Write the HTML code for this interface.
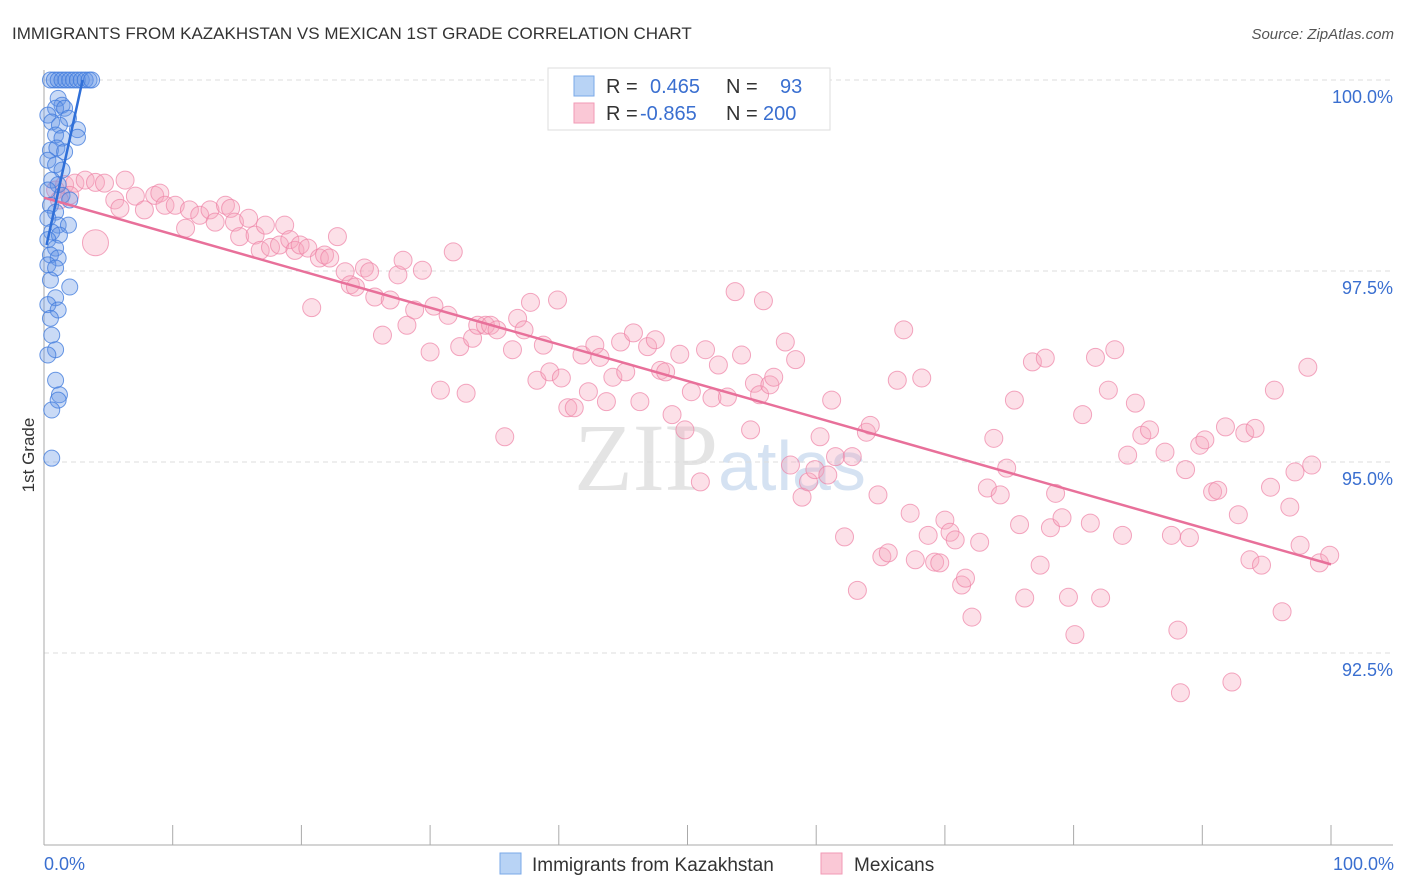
<!DOCTYPE html>
<html><head><meta charset="utf-8">
<style>
body{margin:0;background:#fff;font-family:"Liberation Sans",sans-serif;}
#wrap{position:relative;width:1406px;height:892px;overflow:hidden;}
</style></head>
<body>
<div id="wrap">
<svg id="svg" width="1406" height="892">
<text x="12" y="39" font-size="17" fill="#333">IMMIGRANTS FROM KAZAKHSTAN VS MEXICAN 1ST GRADE CORRELATION CHART</text>
<text x="1394" y="39" font-size="15" fill="#555" text-anchor="end" font-style="italic">Source: ZipAtlas.com</text>
<text x="34" y="455" font-size="17" fill="#333" transform="rotate(-90 34 455)" text-anchor="middle">1st Grade</text>
<text x="720" y="490" font-size="96" fill="#e4e4e4" text-anchor="middle" font-family="Liberation Serif,serif">ZIP<tspan fill="#d5e2f2" font-family="Liberation Sans,sans-serif" font-size="70">atlas</tspan></text>
<g id="grid"></g><g id="axes"></g><g id="pts"></g><g id="lines"></g>
<g>
<rect x="548" y="68" width="282" height="62" fill="#fff" stroke="#ddd"/>
<rect x="574" y="76" width="20" height="20" fill="#b8d3f5" stroke="#7aa8e8"/>
<rect x="574" y="103" width="20" height="20" fill="#fac8d6" stroke="#f29ab5"/>
<text x="606" y="93" font-size="20" fill="#333">R = <tspan x="650" fill="#3a6fd0">0.465</tspan><tspan x="726" fill="#333">N =</tspan><tspan x="780" fill="#3a6fd0">93</tspan></text>
<text x="606" y="120" font-size="20" fill="#333">R = <tspan x="640" fill="#3a6fd0">-0.865</tspan><tspan x="726" fill="#333">N =</tspan><tspan x="763" fill="#3a6fd0">200</tspan></text>
</g>
<g>
<rect x="500" y="853" width="21" height="21" fill="#b8d3f5" stroke="#7aa8e8"/>
<text x="532" y="871" font-size="19" fill="#333">Immigrants from Kazakhstan</text>
<rect x="821" y="853" width="21" height="21" fill="#fac8d6" stroke="#f29ab5"/>
<text x="854" y="871" font-size="19" fill="#333">Mexicans</text>
</g>
</svg>
</div>
<script>
const yTicks=[100,97.5,95,92.5];
const yTickLabels=["100.0%","97.5%","95.0%","92.5%"];
const xTickVals=[0,10,20,30,40,50,60,70,80,90,100];
const blueX=[0.5,0.8,1.1,1.4,1.7,2.0,2.3,2.6,2.9,3.2,3.5,3.7,1.1,1.4,0.9,1.6,0.3,1.9,0.6,1.2,2.6,2.6,0.9,1.4,0.5,1,1.6,0.3,0.9,1.4,0.6,1.1,0.3,1.4,2,0.5,0.9,0.3,1.1,1.9,0.6,1.2,0.3,0.9,0.5,1.1,0.3,0.9,0.5,2,0.9,0.3,1.1,0.5,0.6,0.9,0.3,0.9,1.2,1.1,0.6,0.6];
const blueY=[100,100,100,100,100,100,100,100,100,100,100,100,99.76,99.67,99.63,99.63,99.54,99.5,99.45,99.41,99.35,99.25,99.28,99.24,99.08,99.11,99.06,98.95,98.89,98.82,98.69,98.63,98.56,98.49,98.43,98.36,98.27,98.19,98.1,98.1,98.01,97.97,97.91,97.8,97.71,97.67,97.58,97.54,97.38,97.29,97.15,97.06,96.99,96.88,96.66,96.47,96.4,96.07,95.88,95.81,95.68,95.05];
const pinkX=[0.9,1.6,2.4,3.2,4.0,4.7,6.3,2.0,1.2,5.5,5.9,7.1,7.8,8.6,9.0,9.4,10.2,11.0,11.3,12.1,12.9,13.3,14.1,14.5,14.8,15.2,15.9,16.4,16.8,17.2,17.6,18.3,18.7,19.1,19.5,19.9,20.5,20.8,21.4,21.8,22.2,22.8,23.4,23.8,24.2,24.9,25.3,25.7,26.3,26.9,27.5,27.9,28.2,28.8,29.4,30.0,30.3,30.8,31.4,31.8,32.3,32.8,33.3,33.7,34.3,34.7,35.2,35.8,36.4,36.8,37.3,37.8,38.3,38.8,39.3,39.9,40.2,40.7,41.2,41.8,42.3,42.8,43.2,43.7,44.2,44.8,45.2,45.8,46.3,46.9,47.5,47.9,48.3,48.8,49.4,49.8,50.3,51.0,51.4,51.9,52.4,53.1,53.7,54.2,54.9,55.2,55.6,55.9,56.4,56.7,57.6,58.0,58.4,58.9,59.4,59.9,60.3,60.9,61.2,61.5,62.2,62.8,63.2,63.9,64.2,64.8,65.1,65.6,66.3,66.8,67.3,67.7,68.2,68.7,69.2,69.6,70.0,70.4,70.8,71.3,71.6,72.1,72.7,73.3,73.8,74.3,74.8,75.4,75.8,76.2,76.8,77.4,77.8,78.2,78.6,79.1,79.6,80.1,80.7,81.3,81.7,82.1,82.7,83.2,83.8,84.2,84.8,85.3,85.9,87.1,87.6,88.1,88.3,88.7,89.0,89.8,90.2,90.8,91.2,91.8,92.3,92.8,93.3,93.7,94.1,94.6,95.3,95.6,96.2,96.8,97.2,97.6,98.2,98.5,99.1,99.9];
const pinkY=[98.56,98.63,98.65,98.69,98.66,98.65,98.69,98.49,98.43,98.43,98.32,98.48,98.30,98.49,98.52,98.36,98.36,98.06,98.30,98.23,98.30,98.14,98.36,98.32,98.14,97.95,98.19,97.97,97.77,98.10,97.81,97.84,98.10,97.91,97.77,97.84,97.80,97.02,97.67,97.71,97.67,97.95,97.49,97.32,97.29,97.54,97.49,97.16,96.66,97.12,97.45,97.64,96.79,96.99,97.51,96.44,97.04,95.94,96.92,97.75,96.51,95.90,96.62,96.79,96.79,96.79,96.73,95.33,96.47,96.88,96.73,97.09,96.07,96.53,96.18,97.12,96.10,95.71,95.71,96.40,95.92,96.53,96.37,95.79,96.11,96.57,96.18,96.69,95.79,96.51,96.60,96.20,96.18,95.62,96.41,95.42,95.92,94.74,96.47,95.84,96.27,95.85,97.23,96.40,95.42,96.03,95.88,97.11,96.01,96.11,96.57,94.96,96.34,94.54,94.74,94.90,95.33,94.83,95.81,95.07,94.02,95.07,93.32,95.39,95.48,94.57,93.76,93.81,96.07,96.73,94.33,93.72,96.10,94.04,93.69,93.68,94.24,94.08,93.98,93.39,93.48,92.97,93.95,94.66,95.31,94.57,94.92,95.81,94.18,93.22,96.31,93.65,96.36,94.14,94.59,94.27,93.23,92.74,95.62,94.20,96.37,93.22,95.94,96.47,94.04,95.09,95.77,95.35,95.42,95.13,94.04,92.80,91.98,94.90,94.01,95.22,95.29,94.61,94.63,95.46,92.12,94.31,95.38,93.72,95.44,93.65,94.67,95.94,93.04,94.41,94.87,93.91,96.24,94.96,93.68,93.78];
const bigPinkX=[4.0];
const bigPinkY=[97.87];
const blueTrendX=[0.2,3.0];
const blueTrendY=[97.84,100];
const pinkTrendX=[0,100];
const pinkTrendY=[98.46,93.66];

const NS="http://www.w3.org/2000/svg";
const X=v=>44+v*12.87;
const Y=v=>80+(100-v)*76.4;
function mk(tag,attrs,parent){const e=document.createElementNS(NS,tag);for(const k in attrs)e.setAttribute(k,attrs[k]);document.getElementById(parent).appendChild(e);return e;}
yTicks.forEach((t,i)=>{
  const l=mk('line',{x1:44,x2:1393,y1:Y(t),y2:Y(t),stroke:'#ddd','stroke-dasharray':'5,4'},'grid');
  
  
  const tx=mk('text',{x:1393,y:Y(t)+23,'font-size':18,fill:'#3a6fd0','text-anchor':'end'},'axes');
  tx.textContent=yTickLabels[i];
  
  
});
const ax=mk('line',{x1:44,x2:44,y1:70,y2:845,stroke:'#aaa'},'axes');


const bx=mk('line',{x1:44,x2:1393,y1:845,y2:845,stroke:'#aaa'},'axes');


xTickVals.forEach(t=>{
  const tk=mk('line',{x1:X(t),x2:X(t),y1:825,y2:845,stroke:'#aaa'},'axes');
  
  
});
const xl=mk('text',{x:44,y:870,'font-size':18,fill:'#3a6fd0'},'axes');xl.textContent='0.0%';


const xr=mk('text',{x:1394,y:870,'font-size':18,fill:'#3a6fd0','text-anchor':'end'},'axes');xr.textContent='100.0%';


pinkX.forEach((v,i)=>{
  const c=mk('circle',{cx:X(v),cy:Y(pinkY[i]),r:9,fill:'rgba(246,165,190,0.35)',stroke:'rgba(238,130,165,0.7)','stroke-width':1},'pts');
  
  
});
bigPinkX.forEach((v,i)=>{
  const c=mk('circle',{cx:X(v),cy:Y(bigPinkY[i]),r:13,fill:'rgba(246,165,190,0.35)',stroke:'rgba(238,130,165,0.7)','stroke-width':1},'pts');
  
  
});
blueX.forEach((v,i)=>{
  const c=mk('circle',{cx:X(v),cy:Y(blueY[i]),r:8,fill:'rgba(100,150,230,0.35)',stroke:'rgba(60,120,220,0.75)','stroke-width':1},'pts');
  
  
});
const pl=mk('line',{x1:X(pinkTrendX[0]),y1:Y(pinkTrendY[0]),x2:X(pinkTrendX[1]),y2:Y(pinkTrendY[1]),stroke:'#e8709a','stroke-width':2.5},'lines');


const bl=mk('line',{x1:X(blueTrendX[0]),y1:Y(blueTrendY[0]),x2:X(blueTrendX[1]),y2:Y(blueTrendY[1]),stroke:'#2f6fd8','stroke-width':2.5},'lines');


</script>
</body></html>
